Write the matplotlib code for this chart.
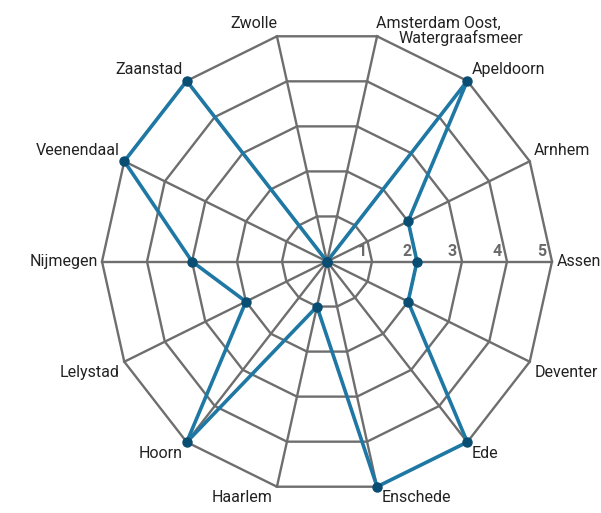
import numpy as np
import matplotlib.pyplot as plt

cities = ['Amsterdam Oost,\nWatergraafsmeer', 'Apeldoorn', 'Arnhem', 'Assen', 'Deventer',
          'Ede', 'Enschede', 'Haarlem', 'Hoorn', 'Lelystad', 'Nijmegen', 'Veenendaal',
          'Zaanstad', 'Zwolle']
scores = [0, 5, 2, 2, 2, 5, 5, 1, 5, 2, 3, 5, 5, 0]
levels = [1, 2, 3, 4, 5]

plt.rcParams['font.family'] = ['Roboto', 'DejaVu Sans']

grid_col = '#6e6e6e'
line_col = '#1f78a4'
dot_col = '#0a4d72'
txt_col = '#222222'
fs = 11.5

n = len(cities)
# angles clockwise from the top, first spoke half a step right of 12 o'clock
ang = np.pi / n + np.arange(n) * 2 * np.pi / n
ux, uy = np.sin(ang), np.cos(ang)

fig = plt.figure(figsize=(6.01, 5.13), dpi=100)
ax = fig.add_axes([0, 0, 1, 1])
sx, sy = 45.0, 46.2  # px per unit (the original is slightly taller than wide)
cx, cy = 327, 261.5
ax.set_xlim(-cx / sx, (601 - cx) / sx)
ax.set_ylim(-(513 - cy) / sy, cy / sy)
ax.axis('off')

# polygon grid
for lv in levels:
    ax.plot(np.append(ux, ux[0]) * lv, np.append(uy, uy[0]) * lv,
            color=grid_col, lw=1.7, zorder=1)
for i in range(n):
    ax.plot([0, ux[i] * 5], [0, uy[i] * 5], color=grid_col, lw=1.7, zorder=1)

# level numbers along the Assen spoke
for lv in levels:
    ax.text(lv - 0.12, 0.06, str(lv), ha='right', va='bottom', fontsize=11.5,
            fontweight='bold', color='#6a6a6a', zorder=2)

# data
s = np.array(scores, dtype=float)
ax.plot(np.append(ux * s, ux[0] * s[0]), np.append(uy * s, uy[0] * s[0]),
        color=line_col, lw=2.6, zorder=3, solid_joinstyle='miter')
ax.plot(ux * s, uy * s, 'o', color=dot_col, ms=6.5, zorder=4)

# labels
for i, name in enumerate(cities):
    x, y = ux[i] * 5, uy[i] * 5
    ha = 'left' if x > 0 else 'right'
    dx = 0.1 if x > 0 else -0.1
    if abs(y) < 0.3:
        va, dy = 'center', 0
    elif y > 0:
        va, dy = 'bottom', 0.08
    else:
        va, dy = 'top', -0.08
    if i == 0:
        ax.text(x - 0.02, y + 0.12, 'Amsterdam Oost,', ha='left', va='bottom',
                fontsize=fs, color=txt_col)
        ax.text(x + 3.25, y + 0.14, 'Watergraafsmeer', ha='right', va='top',
                fontsize=fs, color=txt_col)
        continue
    if i == n - 1:
        dx, dy = 0.0, 0.12
    ax.text(x + dx, y + dy, name, ha=ha, va=va, fontsize=fs, color=txt_col)

fig.savefig('out.png', dpi=100)
